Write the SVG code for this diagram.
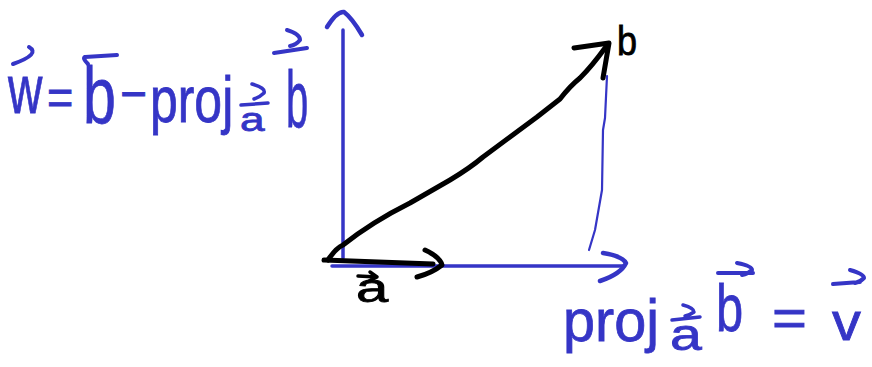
<svg xmlns="http://www.w3.org/2000/svg" width="872" height="367" viewBox="0 0 872 367">
<style>
.bl{fill:none;stroke:#3535c6;stroke-linecap:round;stroke-linejoin:round}
.k{fill:none;stroke:#000;stroke-linecap:round;stroke-linejoin:round}
.bt{font-family:"Liberation Sans","DejaVu Sans",sans-serif;fill:#3535c6;stroke:#3535c6;stroke-width:0.8}
.kt{font-family:"Liberation Sans","DejaVu Sans",sans-serif;fill:#000;stroke:#000;stroke-width:0.8}
</style>
<rect width="872" height="367" fill="#fff"/>
<g id="axes">
<path class="bl" stroke-width="3.5" d="M343,258 L343,30"/>
<path class="bl" stroke-width="4.5" d="M327,27 Q337,11 344,12 Q352,18 362,35"/>
<path class="bl" stroke-width="3.5" d="M332,266 L624,266"/>
<path class="bl" stroke-width="4.5" d="M603,253 Q622,256 626,263 Q621,274 600,281"/>
</g>
<g id="projection-line">
<path class="bl" stroke-width="2.2" d="M607,76 L605,118 L603,130 L602,190 L595,230 L589,250"/>
</g>
<g id="vector-b">
<path class="k" stroke-width="5" d="M328,260 Q336,248 343,245 Q372,222 410,203 L450,180 Q470,168 483,157 L510,137 L537,117 L560,99 Q570,86 580,78 Q592,66 605,48"/>
<path class="k" stroke-width="5" d="M574,48 L609,43 L603,78"/>
<text class="kt" transform="translate(617,55) scale(0.9,1)" font-size="40">b</text>
</g>
<g id="vector-a">
<path class="k" stroke-width="5" d="M324,260 L433,264"/>
<path class="k" stroke-width="5" d="M425,250 Q440,257 442,265 Q432,273 417,277"/>
<path class="k" stroke-width="3.5" d="M358,276 L377,277 M370,272 L377,277 L369,281"/>
<text class="kt" transform="translate(356,302) scale(1.45,1)" font-size="40">a</text>
</g>
<g id="label-w">
<text class="bt" transform="translate(8,113) scale(0.7,1)" font-size="68">w</text>
<path class="bl" stroke-width="4" d="M29,47 Q41,54 13,64"/>
<text class="bt" transform="translate(47,114) scale(0.9,1)" font-size="50">=</text>
<text class="bt" transform="translate(83,123) scale(0.74,1)" font-size="80">b</text>
<path class="bl" stroke-width="4" d="M88,64 Q82,58 85,57 L117,55"/>
<text class="bt" transform="translate(120,111) scale(0.92,1)" font-size="50">−</text>
<text class="bt" transform="translate(150,122) scale(0.78,1)" font-size="64">proj</text>
<text class="bt" transform="translate(240,131) scale(1.3,1)" font-size="34">a</text>
<path class="bl" stroke-width="3.5" d="M241,105 L268,103 M252,84 Q266,88 264,93 Q260,97 254,99"/>
<text class="bt" transform="translate(286,127) scale(0.5,1)" font-size="80">b</text>
<path class="bl" stroke-width="4" d="M274,53 L307,48 M287,30 Q300,34 300,40 Q296,45 290,46"/>
</g>
<g id="label-v">
<text class="bt" transform="translate(563,341) scale(0.96,1)" font-size="60">proj</text>
<text class="bt" transform="translate(670,350) scale(1.3,1)" font-size="44">a</text>
<path class="bl" stroke-width="3.5" d="M672,320 L700,317 M683,305 Q694,308 694,312 Q690,315 685,316"/>
<text class="bt" transform="translate(716,331) scale(0.74,1)" font-size="66">b</text>
<path class="bl" stroke-width="4" d="M718,273 L753,273 M737,263 Q752,266 752,270 Q748,274 742,275"/>
<text class="bt" transform="translate(772,336) scale(1.15,1)" font-size="52">=</text>
<text class="bt" transform="translate(832,340) scale(1.07,1)" font-size="54">v</text>
<path class="bl" stroke-width="4" d="M833,284 L860,282 M850,270 Q864,274 864,278 Q860,282 855,283"/>
</g>
</svg>
